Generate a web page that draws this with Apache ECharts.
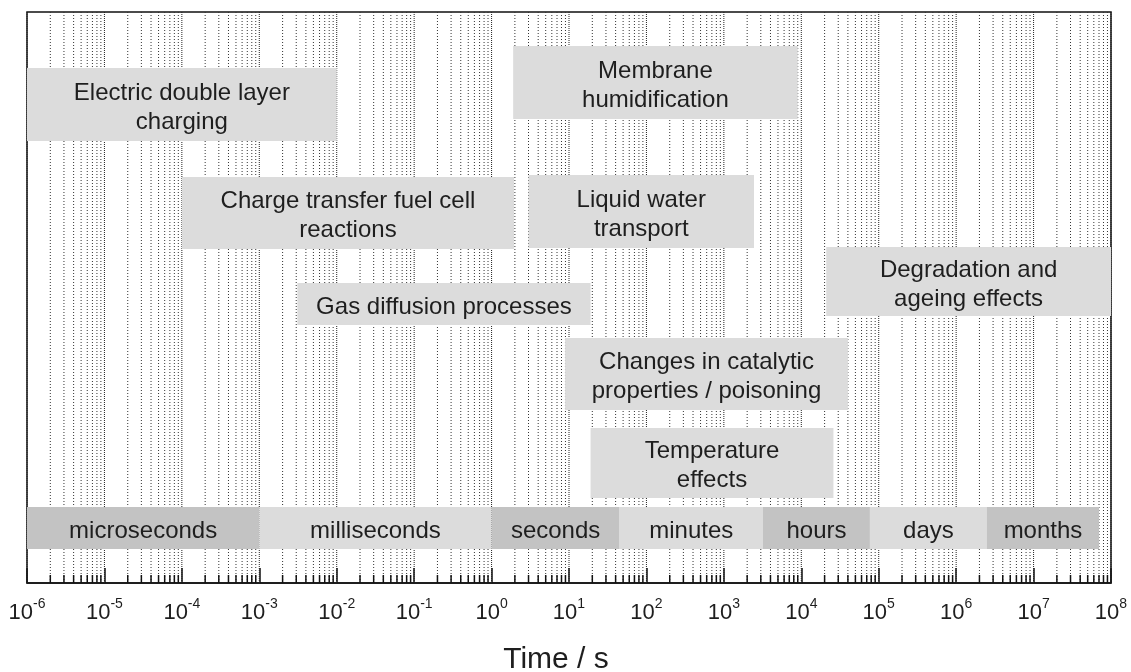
<!DOCTYPE html>
<html>
<head>
<meta charset="utf-8">
<script src="https://cdn.jsdelivr.net/npm/echarts@6/dist/echarts.min.js"></script>
<style>
  html, body { margin: 0; padding: 0; background: #ffffff; }
  #chart { width: 1131px; height: 672px; }
</style>
</head>
<body>
<div id="chart"></div>
<script>
// Time scales of fuel cell processes (log time axis, seconds)
const processNames = [
  'Electric double layer\ncharging',
  'Membrane\nhumidification',
  'Charge transfer fuel cell\nreactions',
  'Liquid water\ntransport',
  'Degradation and\nageing effects',
  'Gas diffusion processes',
  'Changes in catalytic\nproperties / poisoning',
  'Temperature\neffects'
];
const processStart = [1e-6, 1.9, 1e-4, 3, 2.1e4, 3.1e-3, 8.9, 19];
const processEnd   = [1e-2, 9e3, 1.95, 2450, 1e8, 19, 4e4, 2.6e4];

const unitNames = ['microseconds', 'milliseconds', 'seconds', 'minutes', 'hours', 'days', 'months'];
const unitStart = [1e-6, 1e-3, 1, 45, 3200, 7.7e4, 2.5e6];
const unitEnd   = [1e-3, 1, 45, 3200, 7.7e4, 2.5e6, 7e7];

// decade exponents for the axis and the in-decade steps for the minor grid
const decadeExponents = [-6, -5, -4, -3, -2, -1, 0, 1, 2, 3, 4, 5, 6, 7, 8];
const minorSteps = [2, 3, 4, 5, 6, 7, 8, 9];

// vertical layout of the boxes (top, bottom) in plot units measured from the top
const processRows = [[56, 129], [34, 107], [165, 237], [163, 236], [235, 304], [271, 313], [326, 398], [416, 486]];
const unitRow = [495, 537];

const FONT = '"Liberation Sans", Arial, sans-serif';
const TEXT = '#1e1e1e';

const gridValues = [];
decadeExponents.forEach(function (e, i) {
  gridValues.push([Math.pow(10, e), 1]);
  if (i < decadeExponents.length - 1) {
    minorSteps.forEach(function (k) { gridValues.push([k * Math.pow(10, e), 0]); });
  }
});

const processData = processNames.map(function (n, i) {
  return [processStart[i], processEnd[i], processRows[i][0], processRows[i][1], n, 0];
});
const unitData = unitNames.map(function (n, i) {
  return [unitStart[i], unitEnd[i], unitRow[0], unitRow[1], n, i % 2 === 0 ? 1 : 0];
});

function renderBox(params, api) {
  const i = params.dataIndex;
  const data = params.seriesIndex === 1 ? processData : unitData;
  const d = data[i];
  const p0 = api.coord([d[0], d[2]]);
  const p1 = api.coord([d[1], d[3]]);
  return {
    type: 'rect',
    shape: { x: p0[0], y: p0[1], width: p1[0] - p0[0], height: p1[1] - p0[1] },
    style: { fill: d[5] ? '#c3c3c3' : '#dcdcdc' },
    textContent: {
      style: {
        text: d[4], fill: TEXT, fontSize: 24, fontFamily: FONT,
        lineHeight: 29, align: 'center', verticalAlign: 'middle'
      }
    },
    textConfig: { position: 'inside', offset: [0, 3] }
  };
}

const chart = echarts.init(document.getElementById('chart'), null, { renderer: 'canvas' });
chart.setOption({
  animation: false,
  backgroundColor: '#ffffff',
  grid: {
    left: 27, right: 20, top: 12, bottom: 89,
    outerBoundsMode: 'none', containLabel: false,
    show: true, borderColor: '#111', borderWidth: 1.5, backgroundColor: 'transparent'
  },
  xAxis: {
    type: 'log', logBase: 10,
    min: 1e-6, max: 1e8, interval: 1,
    name: 'Time / s', nameLocation: 'middle', nameGap: 62,
    nameTextStyle: { fontSize: 30, color: TEXT, fontFamily: FONT, padding: [0, 26, 0, 0] },
    axisLine: { show: true, onZero: false, lineStyle: { color: '#111', width: 1.5 } },
    axisTick: { show: true, inside: true, length: 15, lineStyle: { color: '#111', width: 1.5 } },
    splitLine: { show: false },
    axisLabel: {
      margin: 14,
      formatter: function (v) {
        const e = Math.round(Math.log10(v));
        return '{b|10}{s|' + e + '}';
      },
      rich: {
        b: { fontSize: 22, fontFamily: FONT, color: TEXT, lineHeight: 27, verticalAlign: 'bottom' },
        s: { fontSize: 14, fontFamily: FONT, color: TEXT, lineHeight: 14, verticalAlign: 'top' }
      }
    }
  },
  yAxis: { type: 'value', min: 0, max: 571, inverse: true, show: false, splitLine: { show: false } },
  series: [
    {
      // dotted grid at every decade and in-decade step, with short minor ticks
      type: 'custom', z: 1, silent: true, clip: false,
      data: gridValues,
      renderItem: function (params, api) {
        const v = api.value(0), major = api.value(1) === 1;
        const top = api.coord([v, 0]);
        const bot = api.coord([v, 571]);
        const children = [{
          type: 'line',
          shape: { x1: top[0], y1: top[1], x2: bot[0], y2: bot[1] },
          style: { stroke: major ? '#222' : '#333', lineWidth: 1, lineDash: major ? [1, 1] : [1, 2] }
        }];
        if (!major) {
          children.push({
            type: 'line',
            shape: { x1: bot[0], y1: bot[1], x2: bot[0], y2: bot[1] - 8 },
            style: { stroke: '#111', lineWidth: 1.5 }
          });
        }
        return { type: 'group', children: children };
      }
    },
    {
      type: 'custom', z: 3, silent: true,
      data: processData.map(function (d) { return [d[0], d[1], d[2], d[3]]; }),
      encode: { x: [0, 1], y: [2, 3] },
      renderItem: renderBox
    },
    {
      type: 'custom', z: 3, silent: true,
      data: unitData.map(function (d) { return [d[0], d[1], d[2], d[3]]; }),
      encode: { x: [0, 1], y: [2, 3] },
      renderItem: renderBox
    }
  ]
});
</script>
</body>
</html>
